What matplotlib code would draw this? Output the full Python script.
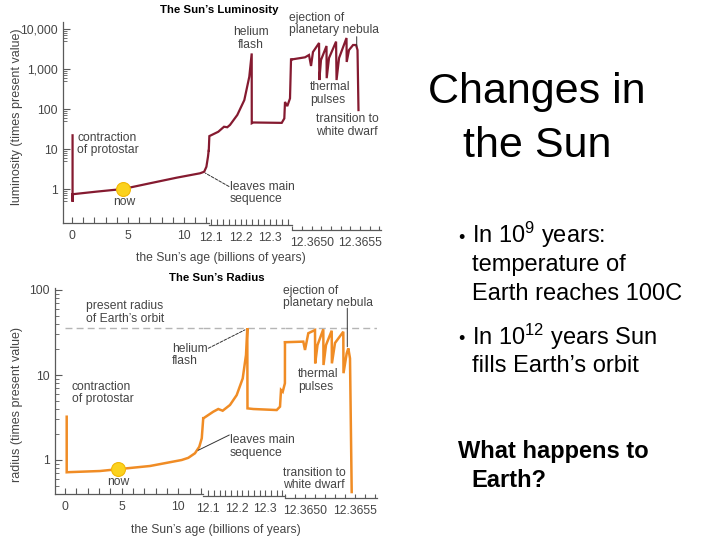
import matplotlib
matplotlib.use("Agg")
import matplotlib.pyplot as plt
from matplotlib.ticker import LogLocator, NullFormatter

plt.rcParams['font.family'] = ['Liberation Sans', 'DejaVu Sans']
plt.rcParams['mathtext.fontset'] = 'custom'
plt.rcParams['mathtext.rm'] = 'Liberation Sans'
plt.rcParams['mathtext.default'] = 'regular'

# ---------------- data (age in billions of years) ----------------
# Luminosity (times present value)
lum_age_1 = [0.05, 0.05, 0.05, 2.2, 4.55, 6.96, 9.35, 11.43, 11.8, 12.0, 12.14, 12.2]
lum_val_1 = [22, 0.48, 0.74, 0.86, 1.0, 1.39, 1.92, 2.47, 2.7, 3.6, 6.4, 9]
lum_age_2 = [12.0935, 12.0955, 12.1255, 12.1446, 12.1557, 12.1648, 12.1893, 12.2128,
             12.2295, 12.2376, 12.2378, 12.243, 12.3383, 12.347, 12.3493, 12.357,
             12.3661, 12.3695, 12.3726]
lum_val_2 = [9, 21, 27, 36, 35, 40, 71, 167, 640, 2450, 44, 46, 45, 58, 150, 118,
             184, 1740, 1740]
lum_age_3 = [12.364797, 12.364931, 12.364972, 12.364993, 12.365013, 12.365076,
             12.365079, 12.365096, 12.365153, 12.365155, 12.365179, 12.365252,
             12.365257, 12.365283, 12.36536, 12.365362, 12.365386, 12.365428,
             12.365459, 12.365474, 12.365484]
lum_val_3 = [1740, 1960, 2240, 1190, 2660, 4470, 530, 1680, 3760, 590, 1880, 4840,
             530, 1880, 5960, 1500, 2980, 3980, 3980, 2980, 94]
lum_now = (4.55, 1.0)

# Radius (times present value)
rad_age_1 = [0.15, 0.15, 0.4, 3.09, 4.7, 7.5, 10.3, 10.88, 11.47, 11.85, 12.07, 12.2]
rad_val_1 = [3.23, 0.717, 0.72, 0.742, 0.78, 0.85, 1.0, 1.06, 1.2, 1.43, 1.8, 3.1]
rad_age_2 = [12.0832, 12.1175, 12.135, 12.1505, 12.1761, 12.1996, 12.2207, 12.2323,
             12.2368, 12.2375, 12.2579, 12.34, 12.3516, 12.3551, 12.3611, 12.3688,
             12.3690]
rad_val_2 = [3.1, 3.7, 3.98, 3.8, 4.44, 5.8, 9.1, 17.2, 35.5, 4.05, 3.98, 3.87, 4.24,
             6.66, 6.35, 8.0, 24.3]
rad_age_3 = [12.364801, 12.364983, 12.365, 12.365033, 12.3651, 12.365102, 12.365125,
             12.365183, 12.365185, 12.36521, 12.365267, 12.365269, 12.3653, 12.365383,
             12.365385, 12.365417, 12.365433, 12.36545, 12.365467]
rad_val_3 = [24.3, 24.7, 19.7, 31, 33.8, 13.7, 22.5, 34.5, 13.1, 22.5, 33.2, 13.7, 23.8,
             32.3, 10.5, 18, 20.6, 15.7, 0.42]
rad_now = (4.7, 0.78)
earth_orbit = 36

lum_yticks = [1, 10, 100, 1000, 10000]
lum_ylabels = ["1", "10", "100", "1,000", "10,000"]
rad_yticks = [1, 10, 100]
rad_ylabels = ["1", "10", "100"]

seg1_ticks = [0, 1, 2, 3, 4, 5, 6, 7, 8, 9, 10, 11, 12]
seg1_labels = ["0", "", "", "", "", "5", "", "", "", "", "10", "", ""]
seg2_ticks = [12.10, 12.12, 12.14, 12.16, 12.18, 12.20, 12.22, 12.24, 12.26, 12.28,
              12.30, 12.32, 12.34, 12.36]
seg2_labels = ["12.1", "", "", "", "", "12.2", "", "", "", "", "12.3", "", "", ""]
seg3_ticks = [12.3648, 12.3649, 12.3650, 12.3651, 12.3652, 12.3653, 12.3654, 12.3655,
              12.3656, 12.3657]
seg3_labels = ["", "", "12.3650", "", "", "", "", "12.3655", "", ""]

# ---------------- figure ----------------
W, H = 720, 540
fig = plt.figure(figsize=(7.2, 5.4), dpi=100)
fig.patch.set_facecolor('white')

TXT = '#454545'
AX = '#5a5a5a'
LUM_C = '#851a30'
RAD_C = '#f08c25'


def rect(x0, x1, y0, y1):
    return [x0 / W, 1 - y1 / H, (x1 - x0) / W, (y1 - y0) / H]


def ftxt(x, y, s, **kw):
    kw.setdefault('color', TXT)
    kw.setdefault('fontsize', 8.7)
    return fig.text(x / W, 1 - y / H, s, **kw)


def fpt(x, y):
    return (x / W, 1 - y / H)


def build_panel(xedges, top, bot, ylim, yticks, ylabels, xlims, offsets, subs,
                segs, color, lw):
    ticks = [(seg1_ticks, seg1_labels), (seg2_ticks, seg2_labels), (seg3_ticks, seg3_labels)]
    axes = []
    for i in range(3):
        ax = fig.add_axes(rect(xedges[i], xedges[i + 1], top, bot))
        ax.set_yscale('log')
        ax.set_ylim(*ylim)
        ax.set_xlim(*xlims[i])
        ax.patch.set_alpha(0)
        for s in ('top', 'right'):
            ax.spines[s].set_visible(False)
        ax.spines['bottom'].set_position(('outward', offsets[i] * 0.72))
        ax.spines['bottom'].set_color(AX)
        ax.spines['bottom'].set_linewidth(0.9)
        ax.set_xticks(ticks[i][0])
        ax.set_xticklabels(ticks[i][1])
        ax.tick_params(axis='x', direction='in', length=4 if i < 2 else 3, width=0.8,
                       color=AX, labelsize=8.7, labelcolor=TXT, pad=5)
        if i == 0:
            ax.spines['left'].set_color(AX)
            ax.spines['left'].set_linewidth(0.9)
            ax.set_yticks(yticks)
            ax.set_yticklabels(ylabels)
            ax.yaxis.set_minor_locator(LogLocator(base=10, subs=subs, numticks=20))
            ax.yaxis.set_minor_formatter(NullFormatter())
            ax.tick_params(axis='y', which='major', direction='in', length=5, width=0.8,
                           color=AX, labelsize=8.7, labelcolor=TXT, pad=4)
            ax.tick_params(axis='y', which='minor', direction='in', length=3, width=0.6,
                           color=AX)
        else:
            ax.spines['left'].set_visible(False)
            ax.yaxis.set_major_locator(LogLocator(numticks=1))
            ax.tick_params(axis='y', which='both', left=False, labelleft=False)
            ax.yaxis.set_minor_locator(LogLocator(subs=[], numticks=1))
        xs, ys = segs[i]
        ax.plot(xs, ys, color=color, lw=lw, solid_joinstyle='miter', clip_on=False, zorder=3)
        axes.append(ax)
    return axes


# ---------- Luminosity panel ----------
lum_axes = build_panel(
    xedges=[63, 208.7, 292, 381], top=22, bot=223,
    ylim=(10 ** ((189 - 223) / 40), 10 ** ((189 - 22) / 40)),
    yticks=lum_yticks, ylabels=lum_ylabels,
    xlims=[(-0.804, 12.205), (12.0933, 12.3728), (12.364796, 12.365717)],
    offsets=[0, 2, 7], subs=(5, 6, 7, 8, 9),
    segs=[(lum_age_1, lum_val_1), (lum_age_2, lum_val_2), (lum_age_3, lum_val_3)],
    color=LUM_C, lw=1.6)

lum_axes[0].plot([lum_now[0]], [lum_now[1]], 'o', ms=10, mfc='#fbd21e', mec='#f2b705',
                 mew=0.8, zorder=5, clip_on=False)

ftxt(219, 10, "The Sun\u2019s Luminosity", ha='center', va='center', fontsize=8.2,
     fontweight='bold', color='black')
ftxt(251, 38.7, "helium\nflash", ha='center', va='center', linespacing=1.05)
ftxt(289.3, 24.2, "ejection of\nplanetary nebula", ha='left', va='center', linespacing=1.05)
ftxt(310, 93.7, "thermal\npulses", ha='left', va='center', linespacing=1.05)
ftxt(316, 125.3, "transition to\nwhite dwarf", ha='left', va='center', linespacing=1.05)
ftxt(77.3, 144.2, "contraction\nof protostar", ha='left', va='center', linespacing=1.05)
ftxt(124, 202.3, "now", ha='center', va='center')
ftxt(230, 192.8, "leaves main\nsequence", ha='left', va='center', linespacing=1.05)
ftxt(221, 258, "the Sun\u2019s age (billions of years)", ha='center', va='center')
ftxt(17, 117, "luminosity (times present value)", ha='center', va='center', rotation=90,
     fontsize=9)

lum_axes[0].annotate('', xy=(11.9, 2.5), xycoords='data', xytext=fpt(229, 186.5),
                     textcoords='figure fraction',
                     arrowprops=dict(arrowstyle='-', color='#333333', lw=0.7,
                                     linestyle=(0, (3, 1.5)), shrinkA=0, shrinkB=0))
lum_axes[2].annotate('', xy=(12.365466, 3600), xycoords='data', xytext=fpt(356.7, 36.7),
                     textcoords='figure fraction',
                     arrowprops=dict(arrowstyle='-', color='#333333', lw=0.7,
                                     shrinkA=0, shrinkB=0))

# ---------- Radius panel ----------
rad_axes = build_panel(
    xedges=[55, 203.3, 285, 376.7], top=288, bot=494.3,
    ylim=(10 ** ((460 - 494.3) / 85), 10 ** ((460 - 288) / 85)),
    yticks=rad_yticks, ylabels=rad_ylabels,
    xlims=[(-0.883, 12.206), (12.0825, 12.3691), (12.3648, 12.365717)],
    offsets=[0, 1.5, 4], subs=(2, 3, 4, 5, 6, 7, 8, 9),
    segs=[(rad_age_1, rad_val_1), (rad_age_2, rad_val_2), (rad_age_3, rad_val_3)],
    color=RAD_C, lw=1.8)

rad_axes[0].hlines(earth_orbit, 0, 12.206, colors='#b5b5b5', lw=1,
                   linestyles=(0, (5, 3)), zorder=1)
rad_axes[1].axhline(earth_orbit, color='#b5b5b5', lw=1, ls=(0, (5, 3)), zorder=1)
rad_axes[2].axhline(earth_orbit, color='#b5b5b5', lw=1, ls=(0, (5, 3)), zorder=1)

rad_axes[0].plot([rad_now[0]], [rad_now[1]], 'o', ms=10, mfc='#fbd21e', mec='#f2b705',
                 mew=0.8, zorder=5, clip_on=False)

ftxt(216.7, 278.3, "The Sun\u2019s Radius", ha='center', va='center', fontsize=8.2,
     fontweight='bold', color='black')
ftxt(86, 312.5, "present radius\nof Earth\u2019s orbit", ha='left', va='center', linespacing=1.05)
ftxt(283.3, 297, "ejection of\nplanetary nebula", ha='left', va='center', linespacing=1.05)
ftxt(171.7, 355.2, "helium\nflash", ha='left', va='center', linespacing=1.05)
ftxt(298.3, 380.5, "thermal\npulses", ha='left', va='center', linespacing=1.05)
ftxt(71.7, 392.8, "contraction\nof protostar", ha='left', va='center', linespacing=1.05)
ftxt(230, 446.3, "leaves main\nsequence", ha='left', va='center', linespacing=1.05)
ftxt(283.3, 478.8, "transition to\nwhite dwarf", ha='left', va='center', linespacing=1.05)
ftxt(118.3, 482.3, "now", ha='center', va='center')
ftxt(215.8, 530, "the Sun\u2019s age (billions of years)", ha='center', va='center')
ftxt(17, 405, "radius (times present value)", ha='center', va='center', rotation=90,
     fontsize=9)

rad_axes[1].annotate('', xy=(12.2288, 34), xycoords='data', xytext=fpt(208.3, 348.3),
                     textcoords='figure fraction',
                     arrowprops=dict(arrowstyle='-', color='#333333', lw=0.7,
                                     linestyle=(0, (3, 1.5)), shrinkA=0, shrinkB=0))
rad_axes[0].annotate('', xy=(11.75, 1.3), xycoords='data', xytext=fpt(229.3, 435),
                     textcoords='figure fraction',
                     arrowprops=dict(arrowstyle='-', color='#333333', lw=0.7,
                                     shrinkA=0, shrinkB=0))
rad_axes[2].annotate('', xy=(12.365423, 21.5), xycoords='data', xytext=fpt(347.3, 308.3),
                     textcoords='figure fraction',
                     arrowprops=dict(arrowstyle='-', color='#333333', lw=0.7,
                                     shrinkA=0, shrinkB=0))

# ---------- Slide text ----------
def stxt(x, y, s, **kw):
    kw.setdefault('color', 'black')
    return fig.text(x / W, 1 - y / H, s, **kw)

stxt(537, 103.3, "Changes in", ha='center', va='baseline', fontsize=31)
stxt(537, 157, "the Sun", ha='center', va='baseline', fontsize=31)

stxt(458, 243, "\u2022", ha='left', va='baseline', fontsize=13)
stxt(471.7, 243, "In 10$^{9}$ years:", ha='left', va='baseline', fontsize=17)
stxt(471.7, 271, "temperature of", ha='left', va='baseline', fontsize=17)
stxt(471.7, 300, "Earth reaches 100C", ha='left', va='baseline', fontsize=17)
stxt(458, 344.5, "\u2022", ha='left', va='baseline', fontsize=13)
stxt(471.7, 344.5, "In 10$^{12}$ years Sun", ha='left', va='baseline', fontsize=17)
stxt(471.7, 371.7, "fills Earth\u2019s orbit", ha='left', va='baseline', fontsize=17)
stxt(458.3, 458.3, "What happens to", ha='left', va='baseline', fontsize=17,
     fontweight='bold')
stxt(471.7, 486.7, "Earth?", ha='left', va='baseline', fontsize=17, fontweight='bold')

fig.savefig("out.png", dpi=100, facecolor='white')
